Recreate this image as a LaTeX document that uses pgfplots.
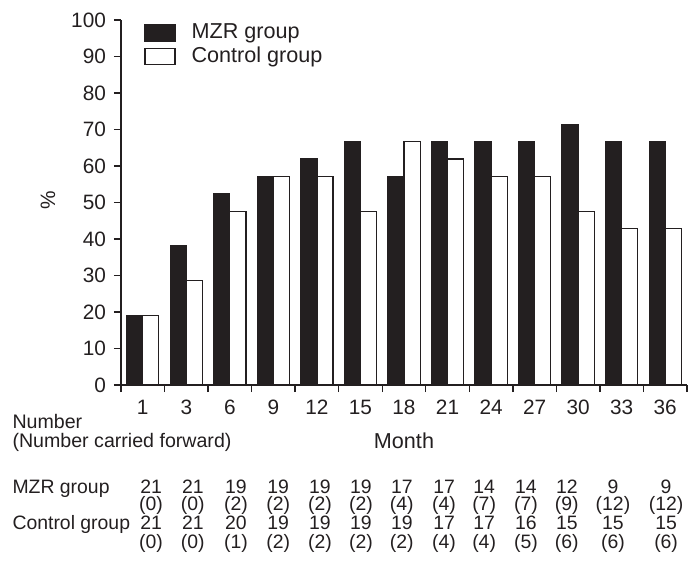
\documentclass[border=0pt]{standalone}
\usepackage{pgfplots}
\pgfplotsset{compat=1.18}
\usepackage{fontspec}
\setmainfont{Liberation Sans}
\definecolor{ink}{HTML}{231F20}
\newcommand{\cell}[3]{\node[anchor=base, inner sep=0pt, font=\fontsize{9.7}{11}\selectfont, text=ink] at (axis cs:#1,#2) {#3};}
% column positions of the table (category units)
\def\ca{0.19}\def\cb{1.15}\def\cc{2.14}\def\cd{3.11}\def\ce{4.07}\def\cf{5.01}\def\cg{5.95}
\def\ch{6.92}\def\ci{7.84}\def\cj{8.80}\def\ck{9.74}\def\cl{10.80}\def\cm{12.02}
\begin{document}
\begin{tikzpicture}
\path[use as bounding box] (-60.5pt,-94pt) rectangle (289.5pt,192.5pt);
\begin{axis}[
  scale only axis, width=283pt, height=182.5pt,
  at={(0,0)}, anchor=south west,
  xmin=-0.5, xmax=12.5, ymin=0, ymax=100,
  axis x line=bottom, axis y line=left,
  axis line style={-, ink, line width=0.7pt},
  every tick/.style={ink, line width=0.7pt},
  tick align=outside,
  xtick={0,...,12},
  xticklabels={1,3,6,9,12,15,18,21,24,27,30,33,36},
  major x tick style={draw=none},
  minor xtick={-0.5,0.5,...,12.5},
  minor tick length=3.5pt,
  major tick length=3.5pt,
  ytick={0,10,...,100},
  /pgf/number format/assume math mode=true,
  ticklabel style={font=\fontsize{10.4}{12}\selectfont, text=ink},
  yticklabel style={xshift=-0.5pt},
  xticklabel style={yshift=-0.5pt},
  clip=false,
  ylabel={\%},
  ylabel style={at={(axis cs:-2.18,50.7)}, anchor=center, font=\fontsize{10.4}{12}\selectfont, text=ink},
  xlabel={Month},
  xlabel style={at={(axis cs:6,-17.45)}, anchor=base, inner sep=0pt, font=\fontsize{10.8}{12}\selectfont, text=ink},
  legend style={at={(rel axis cs:0.03,1.012)}, anchor=north west, draw=none, fill=none,
    font=\fontsize{10.8}{12}\selectfont, text=ink, row sep=-1.5pt},
  legend cell align=left,
]
\addplot[ybar, bar width=0.37, bar shift=-0.185, fill=ink, draw=ink, line width=0.6pt,
  legend image code/.code={\draw[fill=ink, draw=ink] (0pt,-4pt) rectangle (15pt,4pt);}]
  coordinates {(0,19.05) (1,38.1) (2,52.4) (3,57.1) (4,61.9) (5,66.7) (6,57.1) (7,66.7) (8,66.7) (9,66.7) (10,71.4) (11,66.7) (12,66.7)};
\addlegendentry{\hspace{6pt}MZR group}
\addplot[ybar, bar width=0.37, bar shift=0.185, fill=white, draw=ink, line width=0.6pt,
  legend image code/.code={\draw[fill=white, draw=ink, line width=0.6pt] (0pt,-4pt) rectangle (15pt,4pt);}]
  coordinates {(0,19.05) (1,28.6) (2,47.6) (3,57.1) (4,57.1) (5,47.6) (6,66.7) (7,61.9) (8,57.1) (9,57.1) (10,47.6) (11,42.9) (12,42.9)};
\addlegendentry{\hspace{6pt}Control group}

% MZR group: number
\cell{\ca}{-29.6}{21}\cell{\cb}{-29.6}{21}\cell{\cc}{-29.6}{19}\cell{\cd}{-29.6}{19}\cell{\ce}{-29.6}{19}\cell{\cf}{-29.6}{19}\cell{\cg}{-29.6}{17}\cell{\ch}{-29.6}{17}\cell{\ci}{-29.6}{14}\cell{\cj}{-29.6}{14}\cell{\ck}{-29.6}{12}\cell{\cl}{-29.6}{9}\cell{\cm}{-29.6}{9}
% MZR group: carried forward
\cell{\ca}{-34.5}{(0)}\cell{\cb}{-34.5}{(0)}\cell{\cc}{-34.5}{(2)}\cell{\cd}{-34.5}{(2)}\cell{\ce}{-34.5}{(2)}\cell{\cf}{-34.5}{(2)}\cell{\cg}{-34.5}{(4)}\cell{\ch}{-34.5}{(4)}\cell{\ci}{-34.5}{(7)}\cell{\cj}{-34.5}{(7)}\cell{\ck}{-34.5}{(9)}\cell{\cl}{-34.5}{(12)}\cell{\cm}{-34.5}{(12)}
% Control group: number
\cell{\ca}{-39.7}{21}\cell{\cb}{-39.7}{21}\cell{\cc}{-39.7}{20}\cell{\cd}{-39.7}{19}\cell{\ce}{-39.7}{19}\cell{\cf}{-39.7}{19}\cell{\cg}{-39.7}{19}\cell{\ch}{-39.7}{17}\cell{\ci}{-39.7}{17}\cell{\cj}{-39.7}{16}\cell{\ck}{-39.7}{15}\cell{\cl}{-39.7}{15}\cell{\cm}{-39.7}{15}
% Control group: carried forward
\cell{\ca}{-44.9}{(0)}\cell{\cb}{-44.9}{(0)}\cell{\cc}{-44.9}{(1)}\cell{\cd}{-44.9}{(2)}\cell{\ce}{-44.9}{(2)}\cell{\cf}{-44.9}{(2)}\cell{\cg}{-44.9}{(2)}\cell{\ch}{-44.9}{(4)}\cell{\ci}{-44.9}{(4)}\cell{\cj}{-44.9}{(5)}\cell{\ck}{-44.9}{(6)}\cell{\cl}{-44.9}{(6)}\cell{\cm}{-44.9}{(6)}

\node[anchor=base west, inner sep=0pt, font=\fontsize{9.8}{11}\selectfont, text=ink] at (axis cs:-3.0,-11.97) {Number};
\node[anchor=base west, inner sep=0pt, font=\fontsize{9.8}{11}\selectfont, text=ink] at (axis cs:-3.0,-17.2) {(Number carried forward)};
\node[anchor=base west, inner sep=0pt, font=\fontsize{9.7}{11}\selectfont, text=ink] at (axis cs:-3.0,-29.6) {MZR group};
\node[anchor=base west, inner sep=0pt, font=\fontsize{9.7}{11}\selectfont, text=ink] at (axis cs:-3.0,-39.7) {Control group};
\end{axis}
\end{tikzpicture}
\end{document}
